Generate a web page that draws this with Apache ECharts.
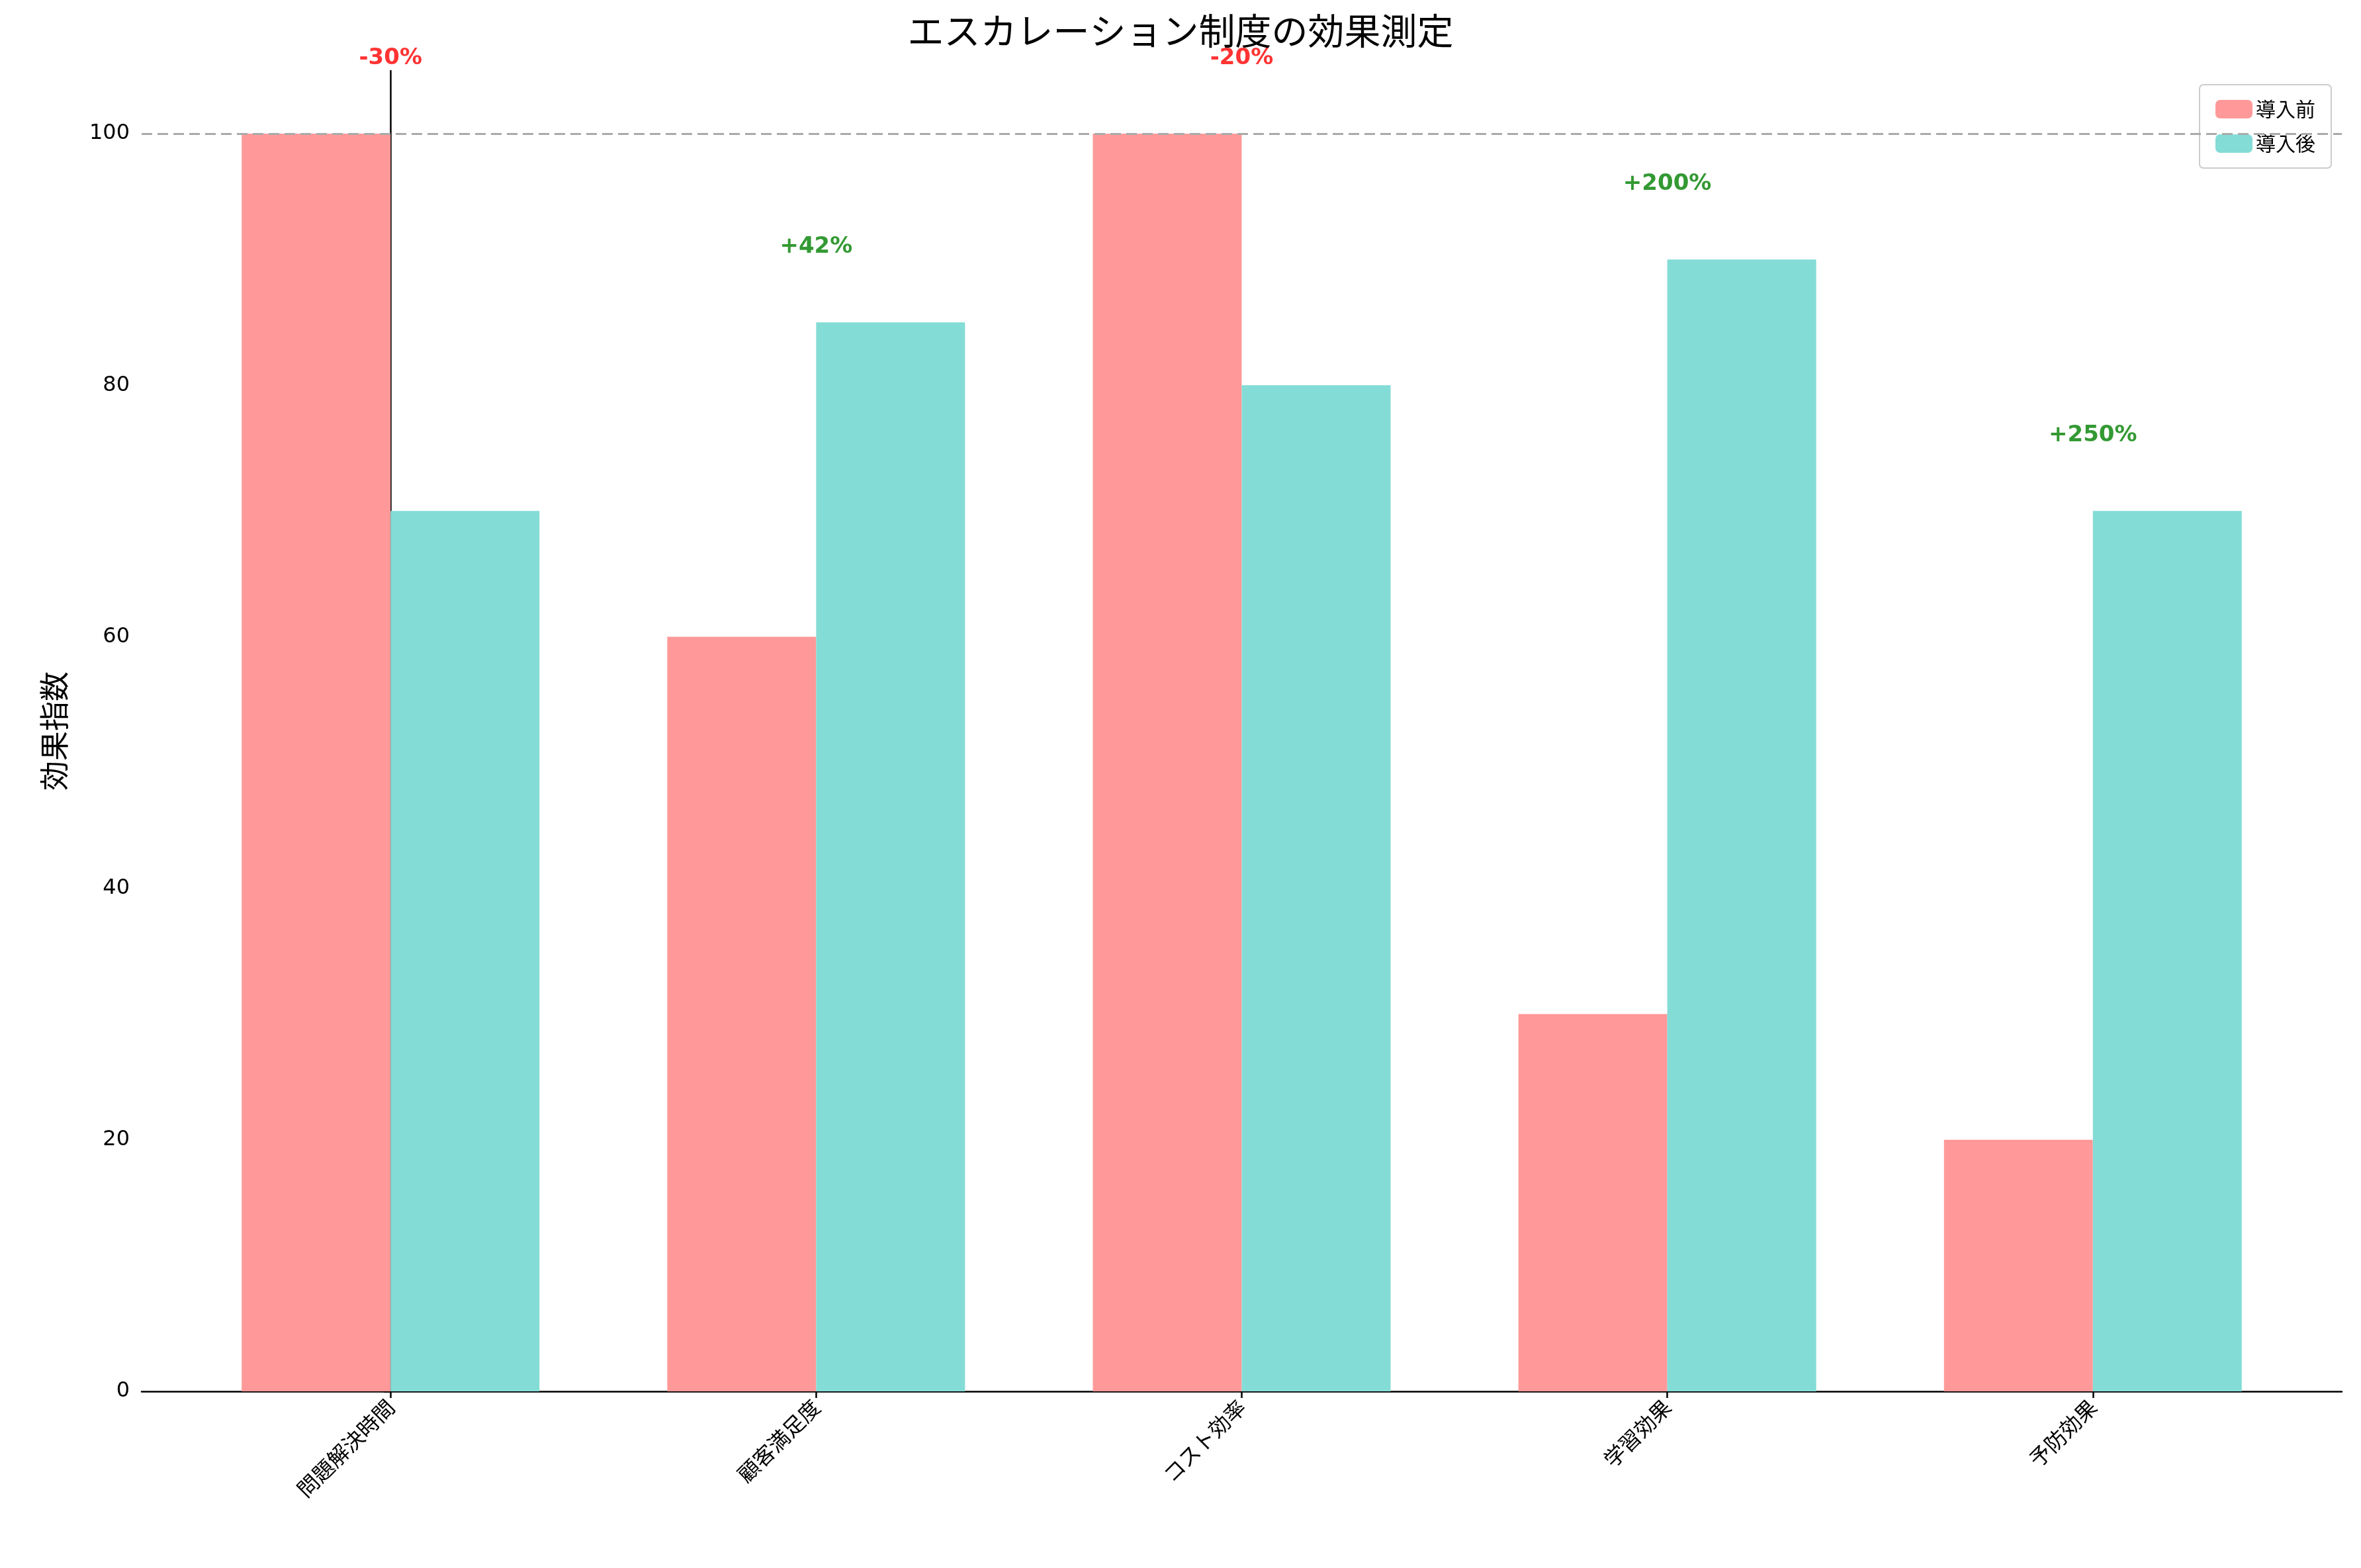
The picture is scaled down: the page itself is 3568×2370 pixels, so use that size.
<!DOCTYPE html>
<html><head><meta charset="utf-8">
<script src="https://cdn.jsdelivr.net/npm/echarts@6/dist/echarts.min.js"></script>
<style>html,body{margin:0;padding:0;background:#fff}#c{width:3568px;height:2370px}</style>
</head><body><div id="c"></div>
<script>
const categories = ['問題解決時間','顧客満足度','コスト効率','学習効果','予防効果'];
const before = [100, 60, 100, 30, 20];
const after = [70, 85, 80, 90, 70];
const changes = ['-30%','+42%','-20%','+200%','+250%'];
const yTicks = [0,20,40,60,80,100];
const F = '"Noto Sans CJK JP", "DejaVu Sans", sans-serif';
const chart = echarts.init(document.getElementById('c'));
const idx = categories.map((_, i) => i);
chart.setOption({
  animation: false,
  title: {text: 'エスカレーション制度の効果測定', left: 'center', top: 14,
    textStyle: {fontFamily: F, fontSize: 55, fontWeight: 'normal', color: '#000'}},
  legend: {right: 45, top: 128, orient: 'vertical', itemWidth: 56, itemHeight: 28, itemGap: 22,
    padding: [22, 24], borderColor: '#ccc', borderWidth: 2, borderRadius: 6, backgroundColor: '#fff',
    textStyle: {fontFamily: F, fontSize: 30, color: '#000'}, data: ['導入前','導入後']},
  grid: {left: 214, right: 29, top: 107, bottom: 267},
  xAxis: {type: 'value', min: -0.585, max: 4.585, splitLine: {show: false},
    axisLine: {onZero: false, lineStyle: {color: '#000', width: 2.5}},
    axisTick: {customValues: idx, length: 10, lineStyle: {color: '#000', width: 2.5}},
    axisLabel: {customValues: idx, rotate: 45, margin: 18, fontFamily: F, fontSize: 32, color: '#000',
      formatter: v => categories[Math.round(v)]}},
  yAxis: {type: 'value', min: 0, max: 105, splitLine: {show: false},
    name: '効果指数', nameLocation: 'middle', nameGap: 110, nameTextStyle: {fontFamily: F, fontSize: 45, color: '#000'},
    axisLine: {show: true, lineStyle: {color: '#000', width: 2.5}},
    axisTick: {show: true, customValues: yTicks, length: 10, lineStyle: {color: '#000', width: 2.5}},
    axisLabel: {customValues: yTicks, margin: 18, fontFamily: 'DejaVu Sans', fontSize: 32, color: '#000'}},
  series: [
    {name: '導入前', type: 'bar', barWidth: 225, barGap: '0%', itemStyle: {color: '#ff9999'},
      data: before.map((v, i) => [i, v]),
      markLine: {silent: true, symbol: 'none', label: {show: false},
        lineStyle: {color: '#aaa', type: [16, 8], width: 3}, data: [{yAxis: 100}]}},
    {name: '導入後', type: 'bar', barWidth: 225, barGap: '0%', itemStyle: {color: '#84dcd6'},
      data: after.map((v, i) => [i, v])},
    {type: 'scatter', symbolSize: 0, silent: true, clip: false, legendHoverLink: false,
      data: changes.map((c, i) => ({value: [i, Math.max(before[i], after[i]) + 6],
        label: {show: true, position: 'inside', formatter: c, fontFamily: 'DejaVu Sans', fontWeight: 'bold', fontSize: 34,
          color: c[0] === '-' ? '#ff0000' : '#008000'}}))}
  ]
});
</script></body></html>
